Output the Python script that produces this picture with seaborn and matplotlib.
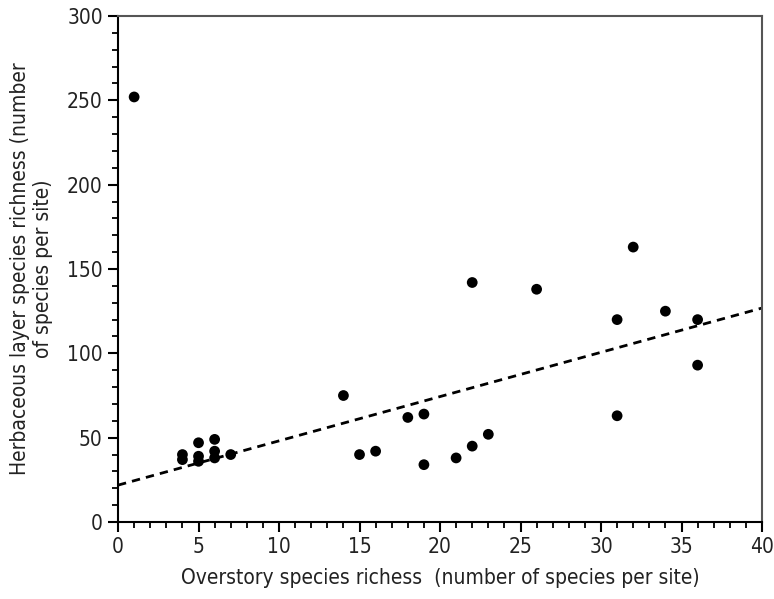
import numpy as np
import pandas as pd
import matplotlib
matplotlib.use('Agg')
import matplotlib.pyplot as plt
import seaborn as sns
from matplotlib.ticker import MultipleLocator

# overstory vs herbaceous species richness per site
overstory = [1, 4, 4, 5, 5, 5, 6, 6, 6, 7, 14, 15, 16, 18, 19, 19, 21, 22, 22, 23,
             26, 31, 31, 32, 34, 36, 36]
herbaceous = [252, 40, 37, 47, 39, 36, 49, 42, 38, 40, 75, 40, 42, 62, 64, 34, 38, 45, 142, 52,
              138, 120, 63, 163, 125, 120, 93]
# the outlier at x=1 is left out of the fitted line
in_fit = [False] + [True] * 26

df = pd.DataFrame({'overstory': overstory, 'herbaceous': herbaceous, 'in_fit': in_fit})

sns.set_style('ticks')
plt.rcParams['font.family'] = ['DejaVu Sans']
plt.rcParams['font.stretch'] = 'condensed'
plt.rcParams['text.color'] = '#222222'
plt.rcParams['axes.labelcolor'] = '#222222'
plt.rcParams['xtick.labelcolor'] = '#222222'
plt.rcParams['ytick.labelcolor'] = '#222222'

fig = plt.figure(figsize=(7.74, 5.99), dpi=100)
ax = fig.add_axes([0.1525, 0.1285, 0.832, 0.8448])
ax.set_xlim(0, 40)
ax.set_ylim(0, 300)

sns.regplot(data=df[df['in_fit']], x='overstory', y='herbaceous', ax=ax,
            scatter=False, ci=None, truncate=False,
            line_kws={'color': 'black', 'linestyle': (0, (3, 2.2)), 'linewidth': 2})
sns.scatterplot(data=df, x='overstory', y='herbaceous', ax=ax,
                color='black', s=60, edgecolor='none', zorder=3)

ax.set_xlim(0, 40)
ax.set_ylim(0, 300)
ax.xaxis.set_major_locator(MultipleLocator(5))
ax.xaxis.set_minor_locator(MultipleLocator(1))
ax.yaxis.set_major_locator(MultipleLocator(50))
ax.yaxis.set_minor_locator(MultipleLocator(10))
ax.tick_params(which='major', length=7, width=1.5, color='black', labelsize=15, pad=4)
ax.tick_params(which='minor', length=4, width=1.3, color='black')

for side in ['left', 'bottom']:
    ax.spines[side].set_color('black')
    ax.spines[side].set_linewidth(1.5)
for side in ['top', 'right']:
    ax.spines[side].set_visible(True)
    ax.spines[side].set_color('#555555')
    ax.spines[side].set_linewidth(1.5)

ax.set_xlabel('Overstory species richess  (number of species per site)', fontsize=15, labelpad=8)
ax.set_ylabel('Herbaceous layer species richness (number\nof species per site)', fontsize=15, labelpad=10)

fig.savefig('out.png', dpi=100)
